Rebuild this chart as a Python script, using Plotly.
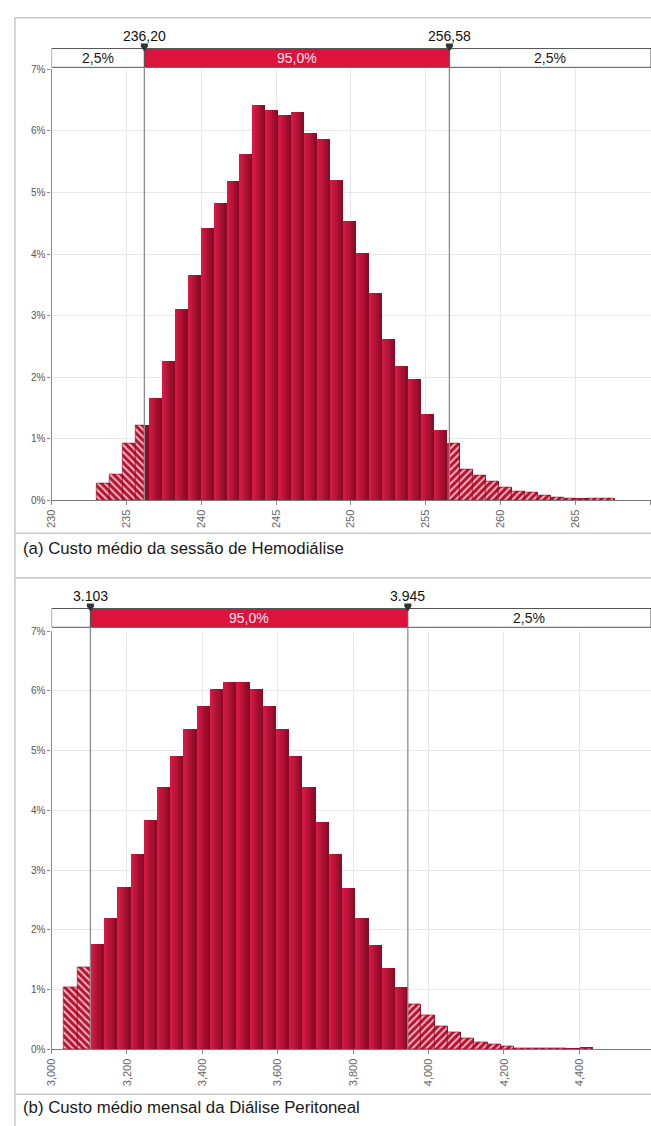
import plotly.graph_objects as go

W, H = 651, 1126

# --- (a) Custo médio da sessão de Hemodiálise -------------------------------
hd_bin_start = 233.0
hd_bin_width = 0.866
hd_pct = [0.28, 0.42, 0.92, 1.22, 1.66, 2.25, 3.10, 3.65, 4.41, 4.83,
          5.18, 5.62, 6.41, 6.34, 6.25, 6.30, 5.96, 5.86, 5.20, 4.53,
          4.01, 3.36, 2.61, 2.18, 1.97, 1.39, 1.14, 0.92, 0.50, 0.41,
          0.30, 0.20, 0.14, 0.12, 0.08, 0.045, 0.025, 0.02, 0.025, 0.035]
hd_cuts = [236.20, 256.58]
hd_band = [2.5, 95.0, 2.5]
hd_ticks = [230, 235, 240, 245, 250, 255, 260, 265, 270]
hd_caption = "(a) Custo médio da sessão de Hemodiálise"

# --- (b) Custo médio mensal da Diálise Peritoneal ---------------------------
dp_bin_start = 3032.9
dp_bin_width = 35.08
dp_pct = [1.04, 1.37, 1.76, 2.19, 2.71, 3.27, 3.83, 4.38, 4.90, 5.36,
          5.75, 6.03, 6.15, 6.14, 6.03, 5.75, 5.36, 4.90, 4.38, 3.80,
          3.26, 2.70, 2.19, 1.74, 1.35, 1.03, 0.76, 0.56, 0.39, 0.28,
          0.18, 0.11, 0.085, 0.05, 0.01, 0.01, 0.01, 0.01, 0.005, 0.02]
dp_cuts = [3103, 3945]
dp_band = [2.5, 95.0, 2.5]
dp_ticks = [3000, 3200, 3400, 3600, 3800, 4000, 4200, 4400, 4600]
dp_caption = "(b) Custo médio mensal da Diálise Peritoneal"

FONT = "Liberation Sans, Arial, sans-serif"
BAR_LIGHT = (0xd4, 0x1a, 0x44)
BAR_DARK = (0x8a, 0x0b, 0x25)
BAND_RED = "#dc143c"
N_STRIPS = 6


def ypap(px):
    return 1 - px / H


def xpap(px):
    return px / W


def mix(c1, c2, t):
    return "rgb(%d,%d,%d)" % tuple(round(a + (b - a) * t) for a, b in zip(c1, c2))


def fmt_pt(v, decimals=1):
    return f"{v:.{decimals}f}".replace(".", ",")


panels = [
    dict(start=hd_bin_start, width=hd_bin_width, pct=hd_pct, cuts=hd_cuts,
         band=hd_band, ticks=hd_ticks, caption=hd_caption,
         xa="x", ya="y", xrange=[230, 270.05],
         cut_text=[f"{c:.2f}".replace(".", ",") for c in hd_cuts],
         tick_text=[str(t) for t in hd_ticks],
         box=(12, 578), sep=533, cap_y=548, label_y=30,
         band_px=(43, 62), plot_px=(64.1, 499.5)),
    dict(start=dp_bin_start, width=dp_bin_width, pct=dp_pct, cuts=dp_cuts,
         band=dp_band, ticks=dp_ticks, caption=dp_caption,
         xa="x2", ya="y2", xrange=[3000, 4590],
         cut_text=[f"{c:,.0f}".replace(",", ".") for c in dp_cuts],
         tick_text=[f"{t:,d}" for t in dp_ticks],
         box=(578, 1140), sep=1100, cap_y=1113, label_y=596,
         band_px=(609, 628), plot_px=(632, 1054.4)),
]

fig = go.Figure()
shapes, annotations = [], []
X0_PX = 46

for i, p in enumerate(panels):
    n = len(p["pct"])
    lefts = [p["start"] + k * p["width"] for k in range(n)]
    lo, hi = p["cuts"]
    xa, ya = p["xa"], p["ya"]

    # shaded bars: narrowing strips from light (left) to dark (right)
    for s in range(N_STRIPS):
        f = s / N_STRIPS
        fig.add_trace(go.Bar(
            x=[l + f * p["width"] for l in lefts], y=p["pct"],
            width=[p["width"] * (1 - f)] * n, offset=0,
            marker=dict(color=mix(BAR_LIGHT, BAR_DARK, s / (N_STRIPS - 1)),
                        line=dict(width=0)),
            xaxis=xa, yaxis=ya, hoverinfo="skip", showlegend=False))

    # tails beyond the 2.5% / 97.5% cut points, hatched
    lx, lw, ly, rx, rw, ry = [], [], [], [], [], []
    for l, v in zip(lefts, p["pct"]):
        r = l + p["width"]
        if l < lo:
            lx.append(l); lw.append(min(r, lo) - l); ly.append(v)
        if r > hi:
            a = max(l, hi); rx.append(a); rw.append(r - a); ry.append(v)
    for tx, tw, ty, shp in ((lx, lw, ly, "\\"), (rx, rw, ry, "/")):
        fig.add_trace(go.Bar(
            x=tx, y=ty, width=tw, offset=0,
            marker=dict(color="#c3173a",
                        pattern=dict(shape=shp, fgcolor="#f3b9c5",
                                     bgcolor="#b8112f", size=5, solidity=0.4,
                                     fillmode="replace"),
                        line=dict(width=0.6, color="#8a0b25")),
            xaxis=xa, yaxis=ya, hoverinfo="skip", showlegend=False))

    # axes
    sfx = "" if i == 0 else "2"
    top_px, bot_px = p["plot_px"]
    fig.update_layout(**{
        "xaxis" + sfx: dict(
            domain=[xpap(X0_PX), 1], range=p["xrange"], anchor=ya,
            tickvals=p["ticks"], ticktext=p["tick_text"], tickangle=-90,
            tickfont=dict(size=11, color="#666", family=FONT),
            ticks="outside", ticklen=4, tickcolor="#888",
            showline=True, linecolor="#7a7a7a", linewidth=1.2,
            showgrid=True, gridcolor="#e8e8e8", zeroline=False),
        "yaxis" + sfx: dict(
            domain=[ypap(bot_px), ypap(top_px)], range=[0, 7], anchor=xa,
            dtick=1, ticksuffix="%",
            tickfont=dict(size=10, color="#555", family=FONT),
            ticks="outside", ticklen=3, tickcolor="#888",
            showline=True, linecolor="#8a8a8a", linewidth=1.2,
            showgrid=True, gridcolor="#e8e8e8", zeroline=False),
    })

    # panel frame, separator, caption
    b0, b1 = p["box"]
    shapes.append(dict(type="rect", xref="paper", yref="paper",
                       x0=xpap(9), x1=1.05, y0=ypap(b1), y1=ypap(b0),
                       line=dict(color="#c9c9c9", width=1.5), layer="below"))
    shapes.append(dict(type="line", xref="paper", yref="paper",
                       x0=xpap(9), x1=1.05, y0=ypap(p["sep"]), y1=ypap(p["sep"]),
                       line=dict(color="#c9c9c9", width=1.5)))
    annotations.append(dict(text=p["caption"], xref="paper", yref="paper",
                            x=xpap(15), y=ypap(p["cap_y"]), xanchor="left",
                            yanchor="middle", showarrow=False,
                            font=dict(size=16.8, color="#1a1a1a", family=FONT)))

    # confidence band above the plot
    bt, bb = p["band_px"]
    xmin, xmax = p["xrange"]
    seg = [(xmin, lo), (lo, hi), (hi, xmax)]
    px_per = (W - X0_PX) / (xmax - xmin)
    for k, ((a, b), pc) in enumerate(zip(seg, p["band"])):
        mid = k == 1
        shapes.append(dict(type="rect", xref=xa, yref="paper",
                           x0=a, x1=b, y0=ypap(bb), y1=ypap(bt),
                           fillcolor=BAND_RED if mid else "white",
                           line=dict(color="#555", width=1)))
        if (b - a) * px_per > 50:
            annotations.append(dict(
                text=fmt_pt(pc) + "%", xref=xa, yref="paper",
                x=(a + b) / 2, y=ypap((bt + bb) / 2), showarrow=False,
                xanchor="center", yanchor="middle",
                font=dict(size=14, color="#fbe3e8" if mid else "#1a1a1a",
                          family=FONT)))

    # cut lines, markers and their values
    for c, txt in zip(p["cuts"], p["cut_text"]):
        shapes.append(dict(type="line", xref=xa, yref="paper", x0=c, x1=c,
                           y0=ypap(bot_px), y1=ypap(bb),
                           line=dict(color="#8c8c8c", width=1.3)))
        shapes.append(dict(type="path", xref=xa, yref="paper",
                           xsizemode="pixel", ysizemode="pixel",
                           xanchor=c, yanchor=ypap(bt),
                           path="M -3.5 5 L 3.5 5 L 3.5 2 L 0 -3 L -3.5 2 Z",
                           fillcolor="#333", line=dict(width=0)))
        annotations.append(dict(text=txt, xref=xa, yref="paper", x=c,
                                y=ypap(p["label_y"]), showarrow=False,
                                xanchor="center", yanchor="middle",
                                font=dict(size=14, color="#111", family=FONT)))

fig.update_layout(
    width=W, height=H, margin=dict(l=0, r=0, t=0, b=0),
    paper_bgcolor="white", plot_bgcolor="white",
    barmode="overlay", bargap=0, showlegend=False,
    font=dict(family=FONT),
    shapes=shapes, annotations=annotations,
)

fig.write_html("out.html")
